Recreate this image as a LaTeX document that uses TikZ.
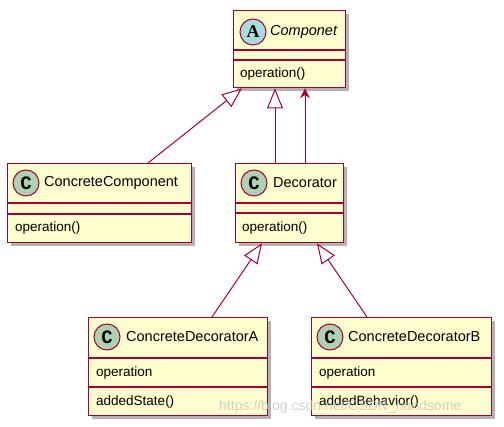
\documentclass[tikz,border=0pt]{standalone}
\usepackage{fontspec}
\setmainfont{Liberation Sans}
\newfontfamily\circfont{Liberation Mono}
\newfontfamily\absfont{Liberation Serif}
\usetikzlibrary{arrows.meta,shadows,calc}
\definecolor{umlfill}{HTML}{FEFECE}
\definecolor{umlline}{HTML}{A80036}
\definecolor{cgreen}{HTML}{ADD1B2}
\definecolor{ablue}{HTML}{A9DCDF}
\tikzset{
  clsbox/.style={draw=umlline, fill=umlfill, line width=1.4pt, anchor=north west, inner sep=0pt,
    drop shadow={shadow xshift=3pt, shadow yshift=-3pt, opacity=0.3, fill=black}},
  sepline/.style={draw=umlline, line width=1.2pt},
  circ/.style={circle, draw=umlline, line width=1pt, minimum size=26pt, inner sep=0pt},
  ctag/.style={circ, fill=cgreen, font=\circfont\bfseries\fontsize{19}{19}\selectfont},
  atag/.style={circ, fill=ablue, font=\absfont\bfseries\fontsize{18}{18}\selectfont},
  cname/.style={anchor=west, inner sep=0pt, font=\fontsize{14.5}{17}\selectfont},
  member/.style={anchor=west, inner sep=0pt, font=\fontsize{13.5}{15}\selectfont},
  conn/.style={draw=umlline, line width=1pt},
  inherit/.style={conn, -{Triangle[open, length=20pt, width=16pt]}},
  assoc/.style={conn, -{Stealth[length=10pt, width=10pt, inset=3.5pt]}},
}
\begin{document}
\begin{tikzpicture}[x=1pt, y=-1pt]
\useasboundingbox (0,0) rectangle (504,427);
% Componet
\node[clsbox, minimum width=112pt, minimum height=77pt] (comp) at (233,10) {};
\draw[sepline] (233,50) -- (345,50);
\draw[sepline] (233,60) -- (345,60);
\node[atag] (compt) at (253,32) {A};
\node[cname, font=\itshape\fontsize{14.5}{17}\selectfont] (compn) at (270,32) {Componet};
\node[member] (compm) at (240,74) {operation()};
% ConcreteComponent
\node[clsbox, minimum width=184pt, minimum height=79pt] (cc) at (7,163) {};
\draw[sepline] (7,203) -- (191,203);
\draw[sepline] (7,214) -- (191,214);
\node[ctag] (cct) at (26,183) {C};
\node[cname] (ccn) at (44,183) {ConcreteComponent};
\node[member] (ccm) at (15,228) {operation()};
% Decorator
\node[clsbox, minimum width=108pt, minimum height=79pt] (dec) at (235,163) {};
\draw[sepline] (235,203) -- (343,203);
\draw[sepline] (235,213) -- (343,213);
\node[ctag] (dect) at (254,183) {C};
\node[cname] (decn) at (273,183) {Decorator};
\node[member] (decm) at (242,228) {operation()};
% ConcreteDecoratorA
\node[clsbox, minimum width=179pt, minimum height=98pt] (cda) at (88,317) {};
\draw[sepline] (88,358) -- (267,358);
\draw[sepline] (88,387) -- (267,387);
\node[ctag] (cdat) at (107,337) {C};
\node[cname] (cdan) at (126,337) {ConcreteDecoratorA};
\node[member] (cdam1) at (96,373) {operation};
\node[member] (cdam2) at (96,402) {addedState()};
% ConcreteDecoratorB
\node[clsbox, minimum width=180pt, minimum height=98pt] (cdb) at (311,317) {};
\draw[sepline] (311,358) -- (491,358);
\draw[sepline] (311,387) -- (491,387);
\node[ctag] (cdbt) at (330,337) {C};
\node[cname] (cdbn) at (348,337) {ConcreteDecoratorB};
\node[member] (cdbm1) at (319,373) {operation};
\node[member] (cdbm2) at (319,402) {addedBehavior()};
% connectors
\draw[inherit] ([xshift=141pt]cc.north west) -- ([xshift=9pt]comp.south west);
\draw[inherit] ([xshift=40pt]dec.north west) -- ([xshift=42pt]comp.south west);
\draw[assoc] ([xshift=70pt]dec.north west) -- ([xshift=72pt]comp.south west);
\draw[inherit] ([xshift=124pt]cda.north west) -- ([xshift=27pt]dec.south west);
\draw[inherit] ([xshift=56pt]cdb.north west) -- ([xshift=82pt]dec.south west);
% watermark
\node[anchor=west, inner sep=0pt, text=black!25, opacity=0.7, font=\fontsize{14}{16}\selectfont] (wm) at (219,407) {https://blog.csdn.net/CSDN\_handsome};
\end{tikzpicture}
\end{document}
